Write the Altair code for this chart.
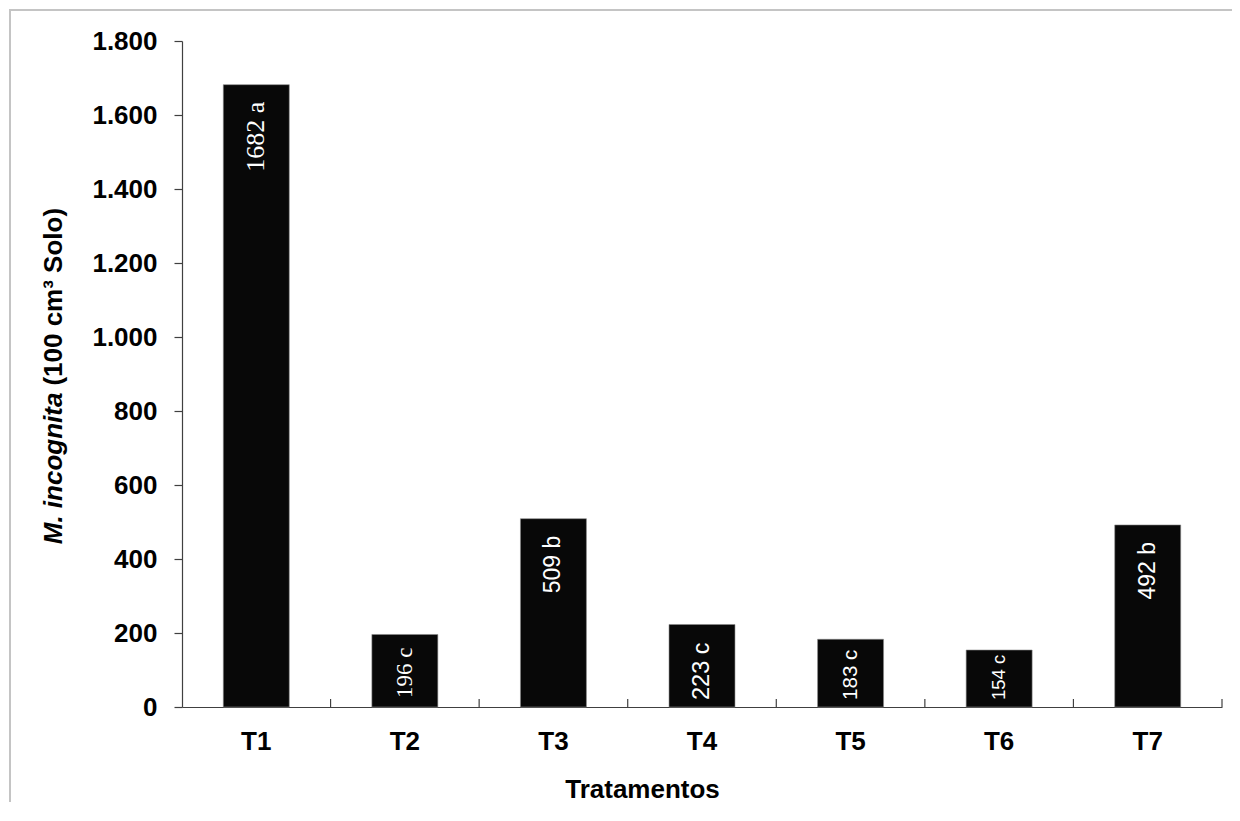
import altair as alt
import pandas as pd

categories = ["T1", "T2", "T3", "T4", "T5", "T6", "T7"]
values = [1682, 196, 509, 223, 183, 154, 492]
letters = ["a", "c", "b", "c", "c", "c", "b"]
y_ticks = [0, 200, 400, 600, 800, 1000, 1200, 1400, 1600, 1800]
serif_cats = ["T1", "T2"]

df = pd.DataFrame({
    "cat": categories,
    "value": values,
    "label": [f"{v} {l}" for v, l in zip(values, letters)],
})
bounds_df = pd.DataFrame({"b": list(range(1, len(categories) + 1))})
one = pd.DataFrame({"k": [0]})

W, H = 1040, 666
AX = "#404040"
SANS = "Liberation Sans"
SERIF = "Liberation Serif"

xenc = alt.X(
    "cat:N", sort=categories,
    scale=alt.Scale(paddingInner=0.556, paddingOuter=0.278),
    axis=alt.Axis(
        title="Tratamentos", ticks=False, domainColor=AX, domainWidth=1.2,
        labelFont=SANS, labelFontWeight="bold", labelFontSize=26, labelColor="black",
        labelAngle=0, labelBaseline="alphabetic", labelPadding=42,
        titleFont=SANS, titleFontWeight="bold", titleFontSize=26, titleColor="black",
        titleX=460, titleY=90, titleBaseline="alphabetic", titleAlign="center",
    ),
)
yscale = alt.Scale(domain=[0, 1800], nice=False)
yenc = alt.Y(
    "value:Q", scale=yscale,
    axis=alt.Axis(
        title=None, values=y_ticks, grid=False, domainColor=AX, domainWidth=1.2,
        tickColor=AX, tickSize=8, tickWidth=1.2,
        labelFont=SANS, labelFontWeight="bold", labelFontSize=26, labelColor="black",
        labelPadding=17,
        labelExpr="replace(format(datum.value, ','), ',', '.')",
    ),
)

frame = alt.Chart(one).mark_rect(fill="white", fillOpacity=0, stroke="#c4c4c4", strokeWidth=2).encode(
    x=alt.value(-172), x2=alt.value(W + 200), y=alt.value(-31), y2=alt.value(H + 300)
)

bars = alt.Chart(df).mark_bar(color="#080808", stroke="#8a8a8a", strokeWidth=0.6).encode(x=xenc, y=yenc)

ticks = alt.Chart(bounds_df).mark_rule(color=AX, strokeWidth=1.2).encode(
    x=alt.X("b:Q", scale=alt.Scale(domain=[0, len(categories)], nice=False), axis=None),
    y=alt.value(H), y2=alt.value(H - 8),
)

serif_expr = " || ".join(f"datum.cat == '{c}'" for c in serif_cats)
tall = "datum.value >= 300"

lab_tall_serif = alt.Chart(df).transform_filter(f"({serif_expr}) && {tall}").mark_text(
    angle=270, align="right", baseline="middle", dx=-17, color="white", font=SERIF, fontSize=26
).encode(x=xenc, y=yenc, text="label:N")

lab_tall_sans = alt.Chart(df).transform_filter(f"!({serif_expr}) && {tall}").mark_text(
    angle=270, align="right", baseline="middle", dx=-17, color="white", font=SANS, fontSize=23
).encode(x=xenc, y=yenc, text="label:N")

lab_short_serif = alt.Chart(df).transform_filter(f"({serif_expr}) && !({tall})").mark_text(
    angle=270, align="left", baseline="middle", dx=9, color="white", font=SERIF, fontSize=23
).encode(x=xenc, y=alt.datum(0), text="label:N")

lab_short_sans = alt.Chart(df).transform_filter(f"!({serif_expr}) && !({tall})").mark_text(
    angle=270, align="left", baseline="middle", dx=7, color="white", font=SANS
).encode(
    x=xenc, y=alt.datum(0), text="label:N",
    size=alt.Size("value:Q", scale=alt.Scale(domain=[154, 223], range=[18.5, 23.5]), legend=None),
)

J = 351.6
ytitle1 = alt.Chart(one).mark_text(
    text="M. incognita", angle=270, align="right", baseline="alphabetic",
    font=SANS, fontWeight="bold", fontStyle="italic", fontSize=26, color="black"
).encode(x=alt.value(-120), y=alt.value(J))

ytitle2 = alt.Chart(one).mark_text(
    text="(100 cm³ Solo)", angle=270, align="left", baseline="alphabetic",
    font=SANS, fontWeight="bold", fontSize=26, color="black"
).encode(x=alt.value(-120), y=alt.value(J - 7))

main = alt.layer(bars, lab_tall_serif, lab_tall_sans, lab_short_serif, lab_short_sans)

chart = alt.layer(
    frame, main, ticks, ytitle1, ytitle2
).resolve_scale(x="independent").properties(
    width=W, height=H,
    padding={"left": 174, "top": 33, "right": 10, "bottom": 95},
    autosize=alt.AutoSizeParams(type="none"),
    background="white",
).configure_view(strokeOpacity=0)

chart.save("out.html", embed_options={"renderer": "svg", "actions": False})
